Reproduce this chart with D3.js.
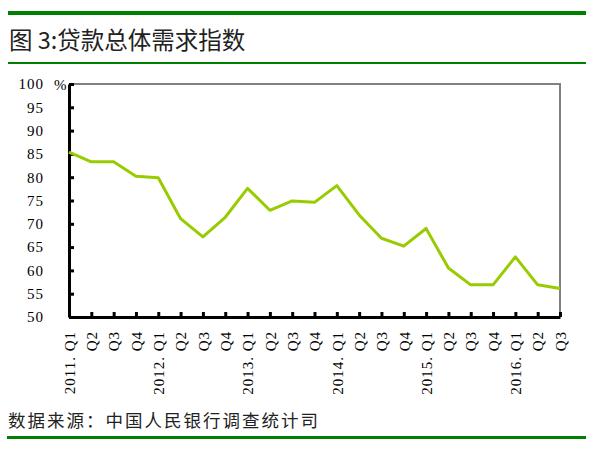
<!DOCTYPE html>
<html>
<head>
<meta charset="utf-8">
<script src="https://d3js.org/d3.v7.min.js"></script>
<style>
  body { margin: 0; background: #fff; }
  svg { display: block; }
</style>
</head>
<body>
<div id="chart"></div>
<script>
// data
var quarters = ["2011. Q1", "Q2", "Q3", "Q4",
  "2012. Q1", "Q2", "Q3", "Q4",
  "2013. Q1", "Q2", "Q3", "Q4",
  "2014. Q1", "Q2", "Q3", "Q4",
  "2015. Q1", "Q2", "Q3", "Q4",
  "2016. Q1", "Q2", "Q3"];
var demandIndex = [85.4, 83.3, 83.3, 80.2, 79.9, 71.1, 67.2, 71.4,
  77.6, 72.9, 74.9, 74.6, 78.2, 71.9, 66.9, 65.2,
  69.0, 60.5, 56.9, 56.9, 62.9, 56.9, 56.1];
var yTicks = [50, 55, 60, 65, 70, 75, 80, 85, 90, 95, 100];

var svgWidth = 591;
var svgHeight = 449;

var plot = { left: 69, right: 560, top: 84, bottom: 317 };

var svg = d3.select("#chart")
  .append("svg")
  .attr("width", svgWidth)
  .attr("height", svgHeight);

var cjk = "'Noto Sans CJK SC', sans-serif";
var serif = "'Liberation Serif', 'DejaVu Serif', serif";

// green rules
var green = "#008000";
svg.append("rect").attr("x", 8).attr("y", 11).attr("width", 578).attr("height", 4).attr("fill", green);
svg.append("rect").attr("x", 8).attr("y", 62).attr("width", 578).attr("height", 2).attr("fill", green);
svg.append("rect").attr("x", 7).attr("y", 436).attr("width", 579).attr("height", 3).attr("fill", green);

// title
svg.append("text")
  .attr("x", 9)
  .attr("y", 49)
  .attr("font-family", cjk)
  .attr("font-size", "23.5px")
  .attr("fill", "#222")
  .text("图 3:贷款总体需求指数");

// source
svg.append("text")
  .attr("x", 8)
  .attr("y", 427)
  .attr("font-family", cjk)
  .attr("font-size", "17.5px")
  .attr("letter-spacing", "2px")
  .attr("fill", "#222")
  .text("数据来源：中国人民银行调查统计司");

// scales
var x = d3.scalePoint()
  .domain(d3.range(quarters.length))
  .range([plot.left, plot.right]);

var y = d3.scaleLinear()
  .domain([50, 100])
  .range([plot.bottom, plot.top]);

// frame top/right
svg.append("path")
  .attr("d", `M${plot.left},${plot.top}H${plot.right}V${plot.bottom}`)
  .attr("fill", "none")
  .attr("stroke", "#808080")
  .attr("stroke-width", 2);

// axes
var leftAxis = d3.axisLeft(y)
  .tickValues(yTicks)
  .tickSizeInner(-5)
  .tickSizeOuter(0)
  .tickPadding(25);

var bottomAxis = d3.axisBottom(x)
  .tickFormat(i => quarters[i])
  .tickSizeInner(-5)
  .tickSizeOuter(0);

var gx = svg.append("g")
  .attr("transform", `translate(0, ${plot.bottom})`)
  .call(bottomAxis);

gx.selectAll("text")
  .attr("transform", "rotate(-90)")
  .attr("x", -14)
  .attr("y", 0)
  .attr("dy", "0.35em")
  .attr("text-anchor", "end");

var gy = svg.append("g")
  .attr("transform", `translate(${plot.left}, 0)`)
  .call(leftAxis);

[gx, gy].forEach(function(g) {
  g.select(".domain").attr("stroke", "#000").attr("stroke-width", 3);
  g.selectAll(".tick line").attr("stroke", "#000").attr("stroke-width", 3);
  g.selectAll("text")
    .attr("font-family", serif)
    .attr("font-size", "15px")
    .attr("letter-spacing", "1px")
    .attr("fill", "#000");
});

// unit
svg.append("text")
  .attr("x", 54)
  .attr("y", 90)
  .attr("font-family", serif)
  .attr("font-size", "15px")
  .attr("fill", "#000")
  .text("%");

// line
var line = d3.line()
  .x((d, i) => x(i))
  .y(d => y(d));

svg.append("path")
  .datum(demandIndex)
  .attr("d", line)
  .attr("fill", "none")
  .attr("stroke", "#99cc00")
  .attr("stroke-width", 3)
  .attr("stroke-linejoin", "round");
</script>
</body>
</html>
